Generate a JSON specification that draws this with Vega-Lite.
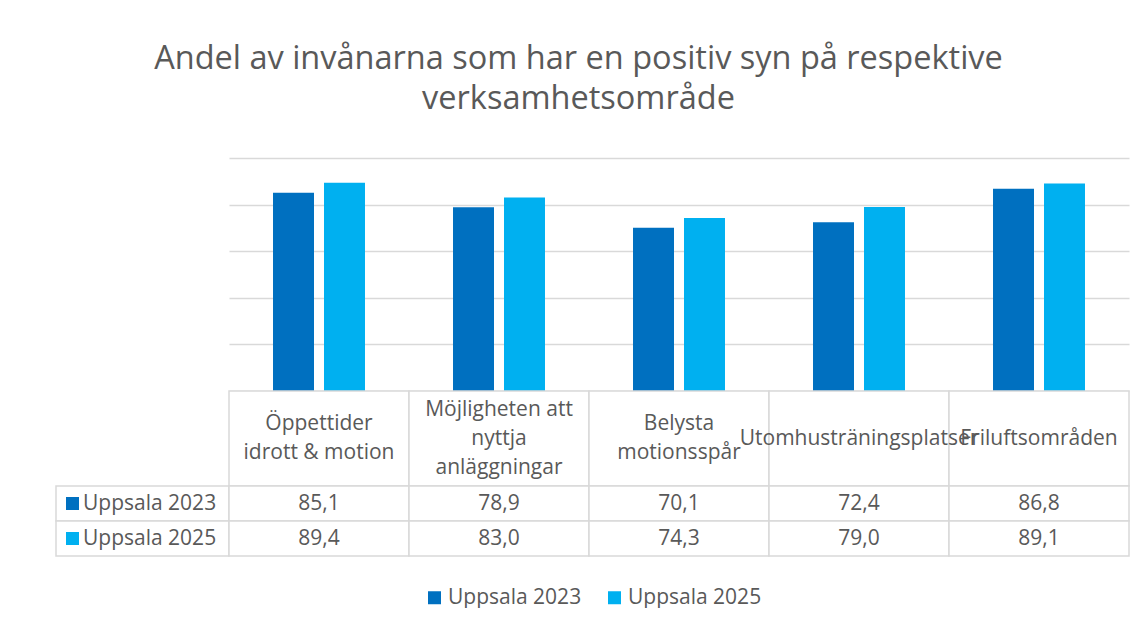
{
  "$schema": "https://vega.github.io/schema/vega-lite/v6.json",
  "padding": {"left": 55, "top": 42, "right": 0, "bottom": 0},
  "background": "white",
  "datasets": {
    "t": [
      {"category": "Öppettider\nidrott & motion", "series": "Uppsala 2023", "value": 85.1},
      {"category": "Öppettider\nidrott & motion", "series": "Uppsala 2025", "value": 89.4},
      {"category": "Möjligheten att\nnyttja\nanläggningar", "series": "Uppsala 2023", "value": 78.9},
      {"category": "Möjligheten att\nnyttja\nanläggningar", "series": "Uppsala 2025", "value": 83.0},
      {"category": "Belysta\nmotionsspår", "series": "Uppsala 2023", "value": 70.1},
      {"category": "Belysta\nmotionsspår", "series": "Uppsala 2025", "value": 74.3},
      {"category": "Utomhusträningsplatser", "series": "Uppsala 2023", "value": 72.4},
      {"category": "Utomhusträningsplatser", "series": "Uppsala 2025", "value": 79.0},
      {"category": "Friluftsområden", "series": "Uppsala 2023", "value": 86.8},
      {"category": "Friluftsområden", "series": "Uppsala 2025", "value": 89.1}
    ]
  },
  "title": {
    "text": ["Andel av invånarna som har en positiv syn på respektive", "verksamhetsområde"],
    "font": "Open Sans",
    "fontSize": 32.5,
    "fontWeight": "normal",
    "color": "#595959",
    "lineHeight": 40,
    "anchor": "middle",
    "dx": -14,
    "offset": 43
  },
  "spacing": 0,
  "bounds": "flush",
  "columns": 2,
  "concat": [
    {
      "width": 173, "height": 233,
      "data": {"values": [{}]},
      "mark": {"type": "text"},
      "encoding": {"text": {"value": ""}}
    },
    {
      "width": 900, "height": 233,
      "data": {"name": "t"},
      "mark": {"type": "bar"},
      "encoding": {
        "x": {"field": "category", "type": "nominal", "sort": null, "axis": null,
              "scale": {"paddingInner": 0.489, "paddingOuter": 0.2445}},
        "xOffset": {"field": "series", "type": "nominal", "scale": {"paddingInner": 0.196, "paddingOuter": 0}},
        "y": {"field": "value", "type": "quantitative",
              "scale": {"domain": [0, 100], "nice": false},
              "axis": {"labels": false, "ticks": false, "domain": false, "title": null, "grid": true,
                       "values": [0, 20, 40, 60, 80, 100], "gridColor": "#d9d9d9", "gridWidth": 1.5}},
        "color": {"field": "series", "type": "nominal",
                  "scale": {"domain": ["Uppsala 2023", "Uppsala 2025"], "range": ["#0070C0", "#00B0F0"]},
                  "legend": {"orient": "bottom", "direction": "horizontal", "title": null,
                             "symbolType": "square", "symbolSize": 169, "symbolStrokeWidth": 0,
                             "labelFont": "Open Sans", "labelFontSize": 21, "labelColor": "#595959",
                             "columnPadding": 22, "symbolOffset": 0, "labelOffset": 3, "offset": 30}}
      }
    },
    {
      "width": 173, "height": 95,
      "data": {"values": [{}]},
      "mark": {"type": "text"},
      "encoding": {"text": {"value": ""}}
    },
    {
      "width": 900, "height": 95,
      "data": {"name": "t"},
      "transform": [
        {"filter": "datum.series === 'Uppsala 2023'"},
        {"calculate": "length(split(datum.category, '\\n'))", "as": "lines"}
      ],
      "encoding": {
        "x": {"field": "category", "type": "nominal", "sort": null, "axis": null,
              "scale": {"paddingInner": 0, "paddingOuter": 0}}
      },
      "layer": [
        {"mark": {"type": "rect", "fill": "white", "stroke": "#d9d9d9", "strokeWidth": 1.5}},
        {"mark": {"type": "text", "font": "Open Sans", "fontSize": 21, "color": "#595959",
                  "lineBreak": "\n", "lineHeight": 29, "baseline": "middle", "align": "center"},
         "encoding": {
           "text": {"field": "category"},
           "y": {"field": "lines", "type": "quantitative", "axis": null,
                 "scale": {"domain": [1, 3], "range": [47.5, 18.5], "zero": false, "nice": false}}
         }}
      ]
    },
    {
      "width": 173, "height": 70,
      "data": {"name": "t"},
      "transform": [{"filter": "datum.category === 'Friluftsområden'"}],
      "encoding": {
        "y": {"field": "series", "type": "nominal", "axis": null,
              "scale": {"paddingInner": 0, "paddingOuter": 0}}
      },
      "layer": [
        {"mark": {"type": "rect", "fill": "white", "stroke": "#d9d9d9", "strokeWidth": 1.5}},
        {"mark": {"type": "point", "shape": "square", "filled": true, "size": 169, "opacity": 1},
         "encoding": {"x": {"value": 16.5}, "color": {"field": "series", "type": "nominal"}}},
        {"mark": {"type": "text", "font": "Open Sans", "fontSize": 21, "color": "#595959",
                  "align": "left", "baseline": "middle"},
         "encoding": {"x": {"value": 27}, "text": {"field": "series"}}}
      ]
    },
    {
      "width": 900, "height": 70,
      "data": {"name": "t"},
      "encoding": {
        "x": {"field": "category", "type": "nominal", "sort": null, "axis": null,
              "scale": {"paddingInner": 0, "paddingOuter": 0}},
        "y": {"field": "series", "type": "nominal", "axis": null,
              "scale": {"paddingInner": 0, "paddingOuter": 0}}
      },
      "layer": [
        {"mark": {"type": "rect", "fill": "white", "stroke": "#d9d9d9", "strokeWidth": 1.5}},
        {"mark": {"type": "text", "font": "Open Sans", "fontSize": 21, "color": "#595959",
                  "baseline": "middle", "align": "center"},
         "encoding": {"text": {"field": "value", "type": "quantitative", "format": ".1f"}}}
      ]
    }
  ],
  "config": {
    "view": {"stroke": null},
    "locale": {"number": {"decimal": ",", "thousands": " ", "grouping": [3], "currency": ["", " kr"]}},
    "legend": {"layout": {"bottom": {"anchor": "middle"}}}
  }
}
